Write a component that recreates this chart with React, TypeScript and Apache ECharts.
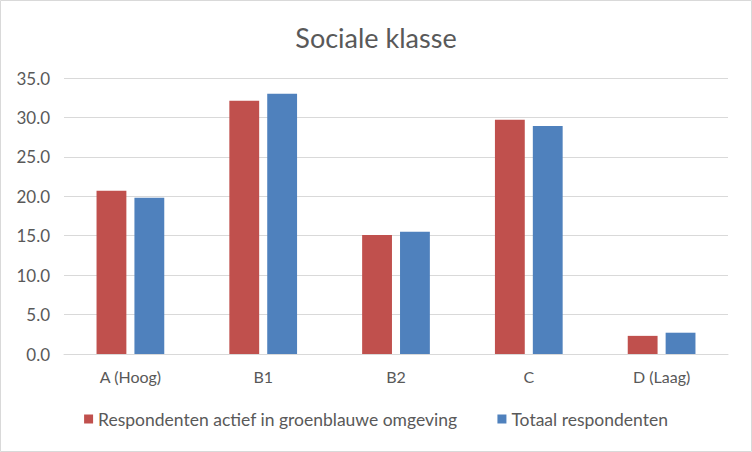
import React, { useEffect, useRef } from "react";
import * as echarts from "echarts";

const categories = ["A (Hoog)", "B1", "B2", "C", "D (Laag)"];
const actiefValues = [20.7, 32.1, 15.1, 29.7, 2.3];
const totaalValues = [19.8, 33.0, 15.5, 28.9, 2.7];
const seriesNames = ["Respondenten actief in groenblauwe omgeving", "Totaal respondenten"];
const titleText = "Sociale klasse";

export default function App() {
  const ref = useRef<HTMLDivElement>(null);
  useEffect(() => {
    if (!ref.current) return;
    const chart = echarts.init(ref.current, null, { renderer: "svg" });
    const font = "Lato, 'Noto Sans', sans-serif";
    chart.setOption({
      animation: false,
      backgroundColor: "#ffffff",
      graphic: [
        {
          type: "rect",
          silent: true,
          z: -10,
          shape: { x: 0.5, y: 0.5, width: 751, height: 451 },
          style: { fill: "none", stroke: "#d9d9d9", lineWidth: 1 },
        },
      ],
      title: {
        text: titleText,
        left: "center",
        top: 19,
        textStyle: { fontFamily: font, fontSize: 27, fontWeight: "normal", color: "#595959" },
      },
      grid: { left: 64, right: 24, top: 78, bottom: 98 },
      legend: {
        bottom: 19,
        left: "center",
        itemWidth: 9,
        itemHeight: 9,
        itemGap: 40,
        icon: "rect",
        textStyle: { fontFamily: font, fontSize: 17.5, color: "#595959" },
        data: seriesNames,
      },
      xAxis: {
        type: "category",
        data: categories,
        axisLine: { lineStyle: { color: "#d9d9d9", width: 1 } },
        axisTick: { show: false },
        axisLabel: { fontFamily: font, fontSize: 16, color: "#595959", margin: 14 },
      },
      yAxis: {
        type: "value",
        min: 0,
        max: 35,
        interval: 5,
        axisLine: { show: false },
        axisTick: { show: false },
        splitLine: { lineStyle: { color: "#d9d9d9", width: 1 } },
        axisLabel: {
          fontFamily: font,
          fontSize: 17,
          color: "#595959",
          margin: 14,
          formatter: (v: number) => v.toFixed(1),
        },
      },
      series: [
        {
          name: seriesNames[0],
          type: "bar",
          data: actiefValues,
          itemStyle: { color: "#c0504d" },
          barGap: "27%",
          barCategoryGap: "49%",
        },
        {
          name: seriesNames[1],
          type: "bar",
          data: totaalValues,
          itemStyle: { color: "#4f81bd" },
          barGap: "27%",
          barCategoryGap: "49%",
        },
      ],
    });
    return () => chart.dispose();
  }, []);
  return (
    <div
      ref={ref}
      style={{
        position: "fixed",
        left: 0,
        top: 0,
        width: 752,
        height: 452,
        background: "#fff",
      }}
    />
  );
}
